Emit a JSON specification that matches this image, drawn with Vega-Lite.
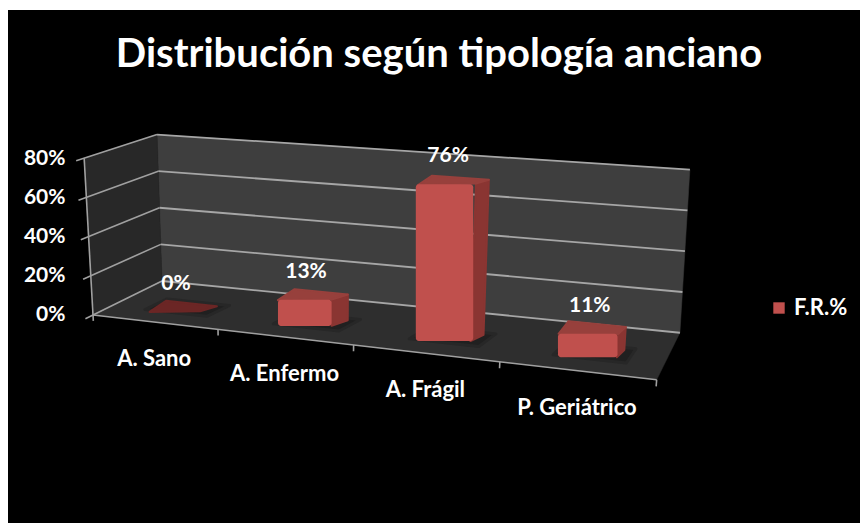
{
"$schema":"https://vega.github.io/schema/vega-lite/v6.json",
"width":852,"height":513,"autosize":"none","padding":{"left":8,"top":10,"right":0,"bottom":0},
"background":"#ffffff",
"view":{"fill":"#000000","stroke":null},
"title":{"text":"Distribución según tipología anciano","color":"#ffffff","font":"Lato","fontSize":40,"fontWeight":"bold","anchor":"middle","frame":"group","baseline":"alphabetic","offset":-61,"dx":5,"dy":36},
"datasets":{
"bars":[{"category":"A. Sano","idx":0,"value":0,"series":"F.R.%"},{"category":"A. Enfermo","idx":1,"value":13,"series":"F.R.%"},{"category":"A. Frágil","idx":2,"value":76,"series":"F.R.%"},{"category":"P. Geriátrico","idx":3,"value":11,"series":"F.R.%"}],
"levels":[{"level":0},{"level":20},{"level":40},{"level":60},{"level":80}],
"edges":[{"edge":0},{"edge":1},{"edge":2},{"edge":3},{"edge":4}],
"frame":[{"part":"frame"}]
},
"encoding":{
"x":{"field":"X","type":"quantitative","scale":{"domain":[-0.7083,6.3917],"nice":false,"zero":false},"axis":null},
"y":{"field":"Y","type":"quantitative","scale":{"domain":[-106.12,155.6],"nice":false,"zero":false},
"axis":{"values":[0,20,40,60,80],"orient":"left","offset":-57,"title":null,"grid":false,"domain":false,"ticks":false,"labelPadding":0,"labelColor":"#ffffff","labelFont":"Lato","labelFontWeight":"bold","labelFontSize":21,"labelExpr":"datum.value+'%'","encode":{"labels":{"update":{"dx":{"signal":"(40-datum.value)*0.125"}}}}}}
},
"layer":[
{"data":{"name":"frame"},"transform":[{"calculate":"[0,1,2,3]","as":"c"},{"flatten":["c"]},{"calculate":"(datum.c==0||datum.c==3)?0:4","as":"u"},{"calculate":"1","as":"d"},{"calculate":"datum.c<2?0:80","as":"v"},
{"calculate":"((0.9975*datum.u+0.0442*datum.u*datum.u)+(-0.00092+0.00058*datum.u)*datum.v)*(1-datum.d)+((0.575+1.079*datum.u)+(-0.00052+0.00039*datum.u)*datum.v)*datum.d","as":"X"},
{"calculate":"(-7.04*(0.9975*datum.u+0.0442*datum.u*datum.u)+(1+0.03*datum.u)*datum.v)*(1-datum.d)+(17.35-6.604*datum.u+(0.934+0.0265*datum.u)*datum.v)*datum.d","as":"Y"}],
"mark":{"type":"line","interpolate":"linear-closed","fill":"#3e3e3e","stroke":"#3e3e3e","strokeWidth":0.5},
"encoding":{"order":{"field":"c"}}},
{"data":{"name":"frame"},"transform":[{"calculate":"[0,1,2,3]","as":"c"},{"flatten":["c"]},{"calculate":"0","as":"u"},{"calculate":"(datum.c==0||datum.c==3)?0:1","as":"d"},{"calculate":"datum.c<2?0:80","as":"v"},
{"calculate":"((0.9975*datum.u+0.0442*datum.u*datum.u)+(-0.00092+0.00058*datum.u)*datum.v)*(1-datum.d)+((0.575+1.079*datum.u)+(-0.00052+0.00039*datum.u)*datum.v)*datum.d","as":"X"},
{"calculate":"(-7.04*(0.9975*datum.u+0.0442*datum.u*datum.u)+(1+0.03*datum.u)*datum.v)*(1-datum.d)+(17.35-6.604*datum.u+(0.934+0.0265*datum.u)*datum.v)*datum.d","as":"Y"}],
"mark":{"type":"line","interpolate":"linear-closed","fill":"#282828","stroke":"#282828","strokeWidth":0.5},
"encoding":{"order":{"field":"c"}}},
{"data":{"name":"frame"},"transform":[{"calculate":"[0,1,2,3]","as":"c"},{"flatten":["c"]},{"calculate":"(datum.c==0||datum.c==3)?0:4","as":"u"},{"calculate":"datum.c<2?0:1","as":"d"},{"calculate":"0","as":"v"},
{"calculate":"((0.9975*datum.u+0.0442*datum.u*datum.u)+(-0.00092+0.00058*datum.u)*datum.v)*(1-datum.d)+((0.575+1.079*datum.u)+(-0.00052+0.00039*datum.u)*datum.v)*datum.d","as":"X"},
{"calculate":"(-7.04*(0.9975*datum.u+0.0442*datum.u*datum.u)+(1+0.03*datum.u)*datum.v)*(1-datum.d)+(17.35-6.604*datum.u+(0.934+0.0265*datum.u)*datum.v)*datum.d","as":"Y"}],
"mark":{"type":"line","interpolate":"linear-closed","fill":"#2e2e2e","stroke":"#2e2e2e","strokeWidth":0.5},
"encoding":{"order":{"field":"c"}}},
{"data":{"name":"levels"},"transform":[{"calculate":"[0,4]","as":"u"},{"flatten":["u"]},{"calculate":"1","as":"d"},{"calculate":"datum.level","as":"v"},
{"calculate":"((0.9975*datum.u+0.0442*datum.u*datum.u)+(-0.00092+0.00058*datum.u)*datum.v)*(1-datum.d)+((0.575+1.079*datum.u)+(-0.00052+0.00039*datum.u)*datum.v)*datum.d","as":"X"},
{"calculate":"(-7.04*(0.9975*datum.u+0.0442*datum.u*datum.u)+(1+0.03*datum.u)*datum.v)*(1-datum.d)+(17.35-6.604*datum.u+(0.934+0.0265*datum.u)*datum.v)*datum.d","as":"Y"}],
"mark":{"type":"line","color":"#a6a6a6","strokeWidth":1.8},
"encoding":{"detail":{"field":"level"},"order":{"field":"u"}}},
{"data":{"name":"levels"},"transform":[{"calculate":"[-0.11,1]","as":"d"},{"flatten":["d"]},{"calculate":"0","as":"u"},{"calculate":"datum.level","as":"v"},
{"calculate":"((0.9975*datum.u+0.0442*datum.u*datum.u)+(-0.00092+0.00058*datum.u)*datum.v)*(1-datum.d)+((0.575+1.079*datum.u)+(-0.00052+0.00039*datum.u)*datum.v)*datum.d","as":"X"},
{"calculate":"(-7.04*(0.9975*datum.u+0.0442*datum.u*datum.u)+(1+0.03*datum.u)*datum.v)*(1-datum.d)+(17.35-6.604*datum.u+(0.934+0.0265*datum.u)*datum.v)*datum.d","as":"Y"}],
"mark":{"type":"line","color":"#a0a0a0","strokeWidth":1.6},
"encoding":{"detail":{"field":"level"},"order":{"field":"d"}}},
{"data":{"name":"frame"},"transform":[{"calculate":"[0,80]","as":"v"},{"flatten":["v"]},{"calculate":"0","as":"u"},{"calculate":"0","as":"d"},
{"calculate":"((0.9975*datum.u+0.0442*datum.u*datum.u)+(-0.00092+0.00058*datum.u)*datum.v)*(1-datum.d)+((0.575+1.079*datum.u)+(-0.00052+0.00039*datum.u)*datum.v)*datum.d","as":"X"},
{"calculate":"(-7.04*(0.9975*datum.u+0.0442*datum.u*datum.u)+(1+0.03*datum.u)*datum.v)*(1-datum.d)+(17.35-6.604*datum.u+(0.934+0.0265*datum.u)*datum.v)*datum.d","as":"Y"}],
"mark":{"type":"line","color":"#a0a0a0","strokeWidth":1.6},
"encoding":{"order":{"field":"v"}}},
{"data":{"name":"frame"},"transform":[{"calculate":"[0,4]","as":"u"},{"flatten":["u"]},{"calculate":"0","as":"d"},{"calculate":"0","as":"v"},
{"calculate":"((0.9975*datum.u+0.0442*datum.u*datum.u)+(-0.00092+0.00058*datum.u)*datum.v)*(1-datum.d)+((0.575+1.079*datum.u)+(-0.00052+0.00039*datum.u)*datum.v)*datum.d","as":"X"},
{"calculate":"(-7.04*(0.9975*datum.u+0.0442*datum.u*datum.u)+(1+0.03*datum.u)*datum.v)*(1-datum.d)+(17.35-6.604*datum.u+(0.934+0.0265*datum.u)*datum.v)*datum.d","as":"Y"}],
"mark":{"type":"line","color":"#a0a0a0","strokeWidth":1.6},
"encoding":{"order":{"field":"u"}}},
{"data":{"name":"edges"},"transform":[{"calculate":"[0,-3]","as":"v"},{"flatten":["v"]},{"calculate":"datum.edge","as":"u"},{"calculate":"0","as":"d"},
{"calculate":"((0.9975*datum.u+0.0442*datum.u*datum.u)+(-0.00092+0.00058*datum.u)*datum.v)*(1-datum.d)+((0.575+1.079*datum.u)+(-0.00052+0.00039*datum.u)*datum.v)*datum.d","as":"X"},
{"calculate":"(-7.04*(0.9975*datum.u+0.0442*datum.u*datum.u)+(1+0.03*datum.u)*datum.v)*(1-datum.d)+(17.35-6.604*datum.u+(0.934+0.0265*datum.u)*datum.v)*datum.d","as":"Y"}],
"mark":{"type":"line","color":"#a0a0a0","strokeWidth":1.6},
"encoding":{"detail":{"field":"edge"},"order":{"field":"v"}}},
{"data":{"name":"bars"},"transform":[{"calculate":"[0,1,2,3]","as":"c"},{"flatten":["c"]},{"calculate":"(datum.c==0||datum.c==3)?datum.idx+0.27:datum.idx+0.76","as":"u"},{"calculate":"datum.c<2?0.27:0.58","as":"d"},{"calculate":"0","as":"v"},
{"calculate":"((0.9975*datum.u+0.0442*datum.u*datum.u)+(-0.00092+0.00058*datum.u)*datum.v)*(1-datum.d)+((0.575+1.079*datum.u)+(-0.00052+0.00039*datum.u)*datum.v)*datum.d","as":"X"},
{"calculate":"(-7.04*(0.9975*datum.u+0.0442*datum.u*datum.u)+(1+0.03*datum.u)*datum.v)*(1-datum.d)+(17.35-6.604*datum.u+(0.934+0.0265*datum.u)*datum.v)*datum.d","as":"Y"}],
"mark":{"type":"line","interpolate":"linear-closed","fill":"#202020","stroke":"#272727","strokeWidth":3,"strokeJoin":"round"},
"encoding":{"detail":{"field":"category"},"order":{"field":"c"}}},
{"data":{"name":"bars"},"transform":[{"filter":"datum.value>0"},{"calculate":"[0,1,2,3]","as":"c"},{"flatten":["c"]},{"calculate":"datum.idx+0.69","as":"u"},{"calculate":"(datum.c==0||datum.c==3)?0.3:0.53","as":"d"},{"calculate":"datum.c<2?0:datum.value","as":"v"},
{"calculate":"((0.9975*datum.u+0.0442*datum.u*datum.u)+(-0.00092+0.00058*datum.u)*datum.v)*(1-datum.d)+((0.575+1.079*datum.u)+(-0.00052+0.00039*datum.u)*datum.v)*datum.d","as":"X"},
{"calculate":"(-7.04*(0.9975*datum.u+0.0442*datum.u*datum.u)+(1+0.03*datum.u)*datum.v)*(1-datum.d)+(17.35-6.604*datum.u+(0.934+0.0265*datum.u)*datum.v)*datum.d","as":"Y0"},
{"calculate":"datum.d==0.3?datum.Y0+1.6:datum.Y0","as":"Y"}],
"mark":{"type":"line","interpolate":"linear-closed","fill":"#8a3532","stroke":"#8a3532","strokeWidth":2,"strokeJoin":"round"},
"encoding":{"detail":{"field":"category"},"order":{"field":"c"}}},
{"data":{"name":"bars"},"transform":[{"calculate":"[0,1,2,3]","as":"c"},{"flatten":["c"]},{"calculate":"(datum.c==0||datum.c==3)?datum.idx+0.29:datum.idx+0.69","as":"u"},{"calculate":"datum.c<2?0.3:0.53","as":"d"},{"calculate":"datum.value","as":"v"},
{"calculate":"((0.9975*datum.u+0.0442*datum.u*datum.u)+(-0.00092+0.00058*datum.u)*datum.v)*(1-datum.d)+((0.575+1.079*datum.u)+(-0.00052+0.00039*datum.u)*datum.v)*datum.d","as":"X"},
{"calculate":"(-7.04*(0.9975*datum.u+0.0442*datum.u*datum.u)+(1+0.03*datum.u)*datum.v)*(1-datum.d)+(17.35-6.604*datum.u+(0.934+0.0265*datum.u)*datum.v)*datum.d","as":"Y0"},
{"calculate":"datum.d==0.3?datum.Y0+(datum.u-datum.idx-0.49)*8:datum.Y0","as":"Y"}],
"mark":{"type":"line","interpolate":"linear-closed","strokeWidth":2,"strokeJoin":"round"},
"encoding":{"detail":{"field":"category"},"order":{"field":"c"},
"fill":{"condition":{"test":"datum.value==0","value":"#6b2625"},"value":"#97403c"},
"stroke":{"condition":{"test":"datum.value==0","value":"#6b2625"},"value":"#97403c"}}},
{"data":{"name":"bars"},"transform":[{"filter":"datum.value>0"},{"calculate":"0.3","as":"d"},{"calculate":"datum.value/2","as":"v"},{"calculate":"datum.idx+0.29","as":"u"},
{"calculate":"((0.9975*datum.u+0.0442*datum.u*datum.u)+(-0.00092+0.00058*datum.u)*datum.v)*(1-datum.d)+((0.575+1.079*datum.u)+(-0.00052+0.00039*datum.u)*datum.v)*datum.d","as":"x0"},
{"calculate":"datum.idx+0.69","as":"u"},
{"calculate":"((0.9975*datum.u+0.0442*datum.u*datum.u)+(-0.00092+0.00058*datum.u)*datum.v)*(1-datum.d)+((0.575+1.079*datum.u)+(-0.00052+0.00039*datum.u)*datum.v)*datum.d","as":"x1"},
{"calculate":"datum.idx+0.49","as":"u"},{"calculate":"0","as":"v"},
{"calculate":"(-7.04*(0.9975*datum.u+0.0442*datum.u*datum.u)+(1+0.03*datum.u)*datum.v)*(1-datum.d)+(17.35-6.604*datum.u+(0.934+0.0265*datum.u)*datum.v)*datum.d","as":"y0"},
{"calculate":"datum.value","as":"v"},
{"calculate":"(-7.04*(0.9975*datum.u+0.0442*datum.u*datum.u)+(1+0.03*datum.u)*datum.v)*(1-datum.d)+(17.35-6.604*datum.u+(0.934+0.0265*datum.u)*datum.v)*datum.d","as":"y1"}],
"mark":{"type":"bar","cornerRadius":3},
"encoding":{
"x":{"field":"x0","type":"quantitative","scale":{"domain":[-0.7083,6.3917],"nice":false,"zero":false},"axis":null},"x2":{"field":"x1"},
"y":{"field":"y0","type":"quantitative","scale":{"domain":[-106.12,155.6],"nice":false,"zero":false},
"axis":{"values":[0,20,40,60,80],"orient":"left","offset":-57,"title":null,"grid":false,"domain":false,"ticks":false,"labelPadding":0,"labelColor":"#ffffff","labelFont":"Lato","labelFontWeight":"bold","labelFontSize":21,"labelExpr":"datum.value+'%'","encode":{"labels":{"update":{"dx":{"signal":"(40-datum.value)*0.125"}}}}}},"y2":{"field":"y1"},
"color":{"field":"series","type":"nominal","scale":{"range":["#c0504d"]},"legend":{"title":null,"orient":"none","legendX":760,"legendY":287,"symbolType":"square","symbolSize":130,"symbolOpacity":1,"labelColor":"#ffffff","labelFont":"Lato","labelFontWeight":"bold","labelFontSize":22}}}},
{"data":{"name":"bars"},"transform":[{"calculate":"datum.idx+0.5","as":"u"},{"calculate":"0","as":"d"},{"calculate":"0","as":"v"},
{"calculate":"((0.9975*datum.u+0.0442*datum.u*datum.u)+(-0.00092+0.00058*datum.u)*datum.v)*(1-datum.d)+((0.575+1.079*datum.u)+(-0.00052+0.00039*datum.u)*datum.v)*datum.d","as":"X"},
{"calculate":"(-7.04*(0.9975*datum.u+0.0442*datum.u*datum.u)+(1+0.03*datum.u)*datum.v)*(1-datum.d)+(17.35-6.604*datum.u+(0.934+0.0265*datum.u)*datum.v)*datum.d","as":"Y"}],
"mark":{"type":"text","color":"#ffffff","font":"Lato","fontWeight":"bold","fontSize":22,"dy":37,"baseline":"middle","align":"center"},
"encoding":{"text":{"field":"category"}}},
{"data":{"name":"bars"},"transform":[{"calculate":"datum.idx+0.5","as":"u"},{"calculate":"0.3","as":"d"},{"calculate":"datum.value","as":"v"},{"calculate":"datum.value+'%'","as":"pct"},
{"calculate":"((0.9975*datum.u+0.0442*datum.u*datum.u)+(-0.00092+0.00058*datum.u)*datum.v)*(1-datum.d)+((0.575+1.079*datum.u)+(-0.00052+0.00039*datum.u)*datum.v)*datum.d","as":"X"},
{"calculate":"(-7.04*(0.9975*datum.u+0.0442*datum.u*datum.u)+(1+0.03*datum.u)*datum.v)*(1-datum.d)+(17.35-6.604*datum.u+(0.934+0.0265*datum.u)*datum.v)*datum.d","as":"Y"}],
"mark":{"type":"text","color":"#ffffff","font":"Lato","fontWeight":"bold","fontSize":21,"dy":-28,"baseline":"middle","align":"center"},
"encoding":{"text":{"field":"pct"}}}
]
}
